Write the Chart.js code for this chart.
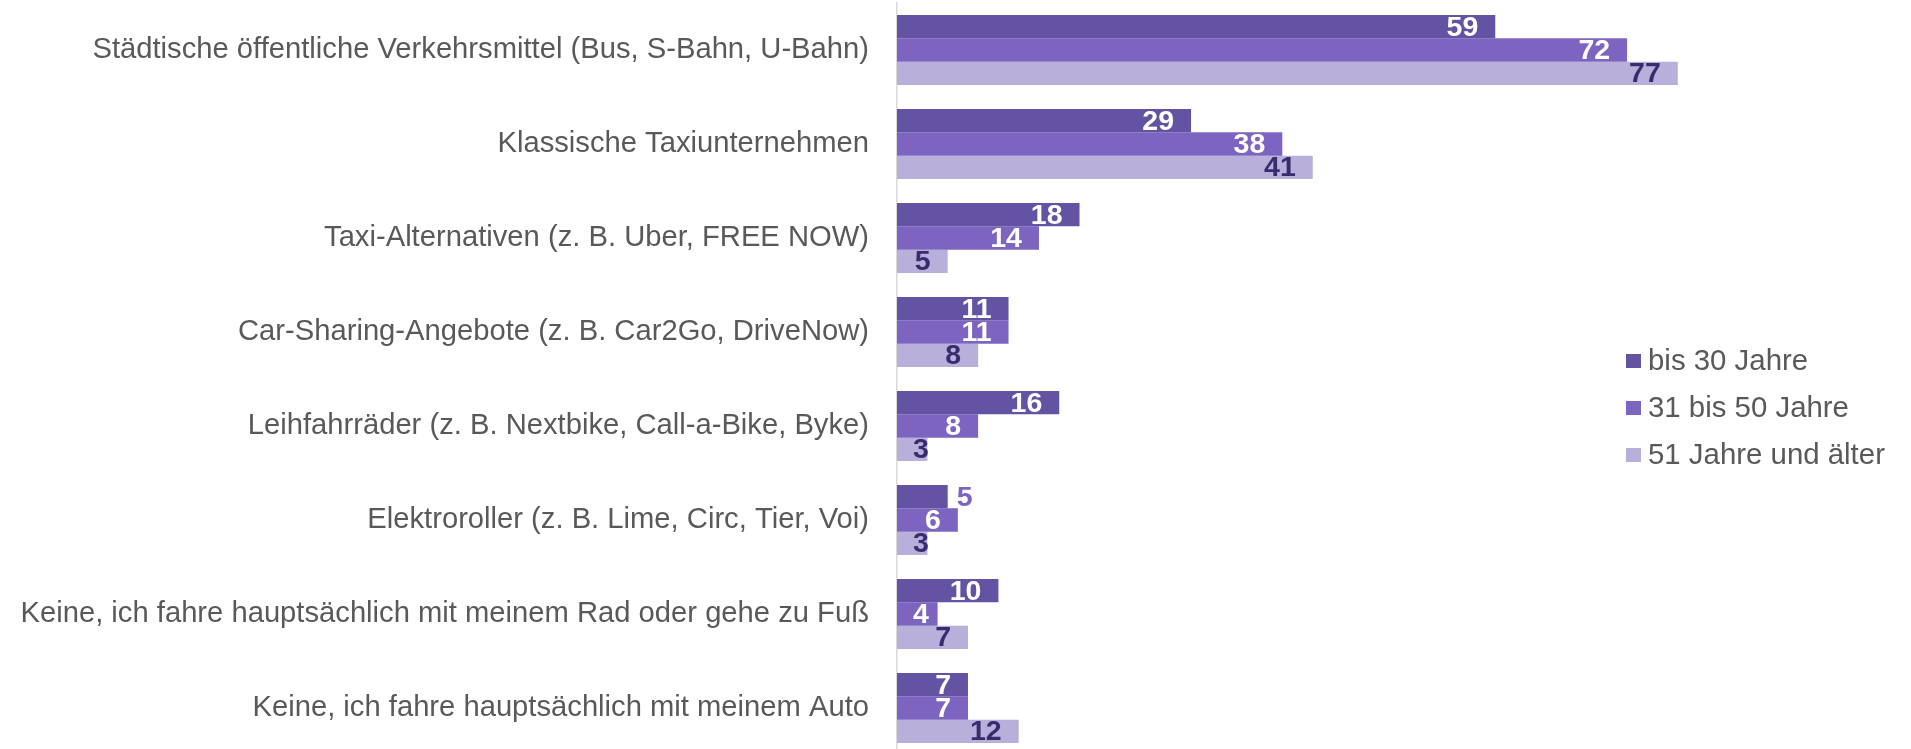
<!DOCTYPE html>
<html>
<head>
<meta charset="utf-8">
<script src="https://cdn.jsdelivr.net/npm/chart.js@4"></script>
<style>
  html, body { margin: 0; padding: 0; background: #fff; overflow: hidden; }
  #frame { width: 1911px; height: 749px; overflow: hidden; }
  #wrap { width: 1911px; height: 755px; position: relative; }
</style>
</head>
<body>
<div id="frame"><div id="wrap"><canvas id="mobility-chart"></canvas></div></div>
<script>
const categories = [
    'Städtische öffentliche Verkehrsmittel (Bus, S-Bahn, U-Bahn)',
    'Klassische Taxiunternehmen',
    'Taxi-Alternativen (z. B. Uber, FREE NOW)',
    'Car-Sharing-Angebote (z. B. Car2Go, DriveNow)',
    'Leihfahrräder (z. B. Nextbike, Call-a-Bike, Byke)',
    'Elektroroller (z. B. Lime, Circ, Tier, Voi)',
    'Keine, ich fahre hauptsächlich mit meinem Rad oder gehe zu Fuß',
    'Keine, ich fahre hauptsächlich mit meinem Auto'
];
const seriesNames = ['bis 30 Jahre', '31 bis 50 Jahre', '51 Jahre und älter'];
const upTo30 = [59, 29, 18, 11, 16, 5, 10, 7];
const from31to50 = [72, 38, 14, 11, 8, 6, 4, 7];
const from51 = [77, 41, 5, 8, 3, 3, 7, 12];

const color1 = '#6453a3';
const color2 = '#7c64c0';
const color3 = '#b8b0da';
const darkLabel = '#3a2b6e';
const textGray = '#595959';

// labels that sit outside the bar end (dataset, index)
const outsideLabels = [[0, 5]];

const barLabels = {
    id: 'barLabels',
    afterDatasetsDraw(chart) {
        const ctx = chart.ctx;
        const axisX = chart.chartArea.left;
        ctx.save();
        ctx.font = 'bold 28.5px "Liberation Sans", Arial, sans-serif';
        ctx.textBaseline = 'middle';
        chart.data.datasets.forEach(function(ds, di) {
            const meta = chart.getDatasetMeta(di);
            meta.data.forEach(function(bar, i) {
                const txt = String(ds.data[i]);
                const w = ctx.measureText(txt).width;
                const outside = outsideLabels.some(p => p[0] === di && p[1] === i);
                if (outside) {
                    ctx.fillStyle = color2;
                    ctx.textAlign = 'left';
                    ctx.fillText(txt, bar.x + 9, bar.y + 1);
                } else {
                    ctx.fillStyle = di === 2 ? darkLabel : '#ffffff';
                    ctx.textAlign = 'right';
                    const right = Math.max(bar.x - 17, axisX + 16 + w);
                    ctx.fillText(txt, right, bar.y + 1);
                }
            });
        });
        ctx.restore();
    }
};

const sideLegend = {
    id: 'sideLegend',
    afterDraw(chart) {
        const ctx = chart.ctx;
        ctx.save();
        ctx.font = '29.4px "Liberation Sans", Arial, sans-serif';
        ctx.textBaseline = 'middle';
        ctx.textAlign = 'left';
        chart.data.datasets.forEach(function(ds, di) {
            const y = 361 + di * 47;
            ctx.fillStyle = ds.backgroundColor;
            ctx.fillRect(1626, y - 7, 15, 14);
            ctx.fillStyle = textGray;
            ctx.fillText(ds.label, 1648, y + 1);
        });
        ctx.restore();
    }
};

const canvas = document.getElementById('mobility-chart');
const mobilityChart = new Chart(canvas, {
    type: 'bar',
    data: {
        labels: categories,
        datasets: [
            { label: seriesNames[0], data: upTo30, backgroundColor: color1 },
            { label: seriesNames[1], data: from31to50, backgroundColor: color2 },
            { label: seriesNames[2], data: from51, backgroundColor: color3 }
        ]
    },
    options: {
        indexAxis: 'y',
        responsive: true,
        maintainAspectRatio: false,
        animation: false,
        categoryPercentage: 0.745,
        barPercentage: 1,
        layout: {
            padding: { top: 3, bottom: 0, left: 0, right: 0 }
        },
        plugins: {
            legend: { display: false },
            tooltip: { enabled: false }
        },
        scales: {
            x: {
                display: false,
                min: 0,
                max: 100
            },
            y: {
                grid: { display: false, drawTicks: false },
                border: { display: true, color: '#d9d9d9', width: 1.5 },
                ticks: {
                    color: textGray,
                    padding: 28,
                    font: { family: '"Liberation Sans", Arial, sans-serif', size: 29.2 }
                },
                afterFit: function(scale) {
                    scale.width = 897;
                    scale.paddingTop = 0;
                    scale.paddingBottom = 0;
                }
            }
        }
    },
    plugins: [barLabels, sideLegend]
});
</script>
</body>
</html>
